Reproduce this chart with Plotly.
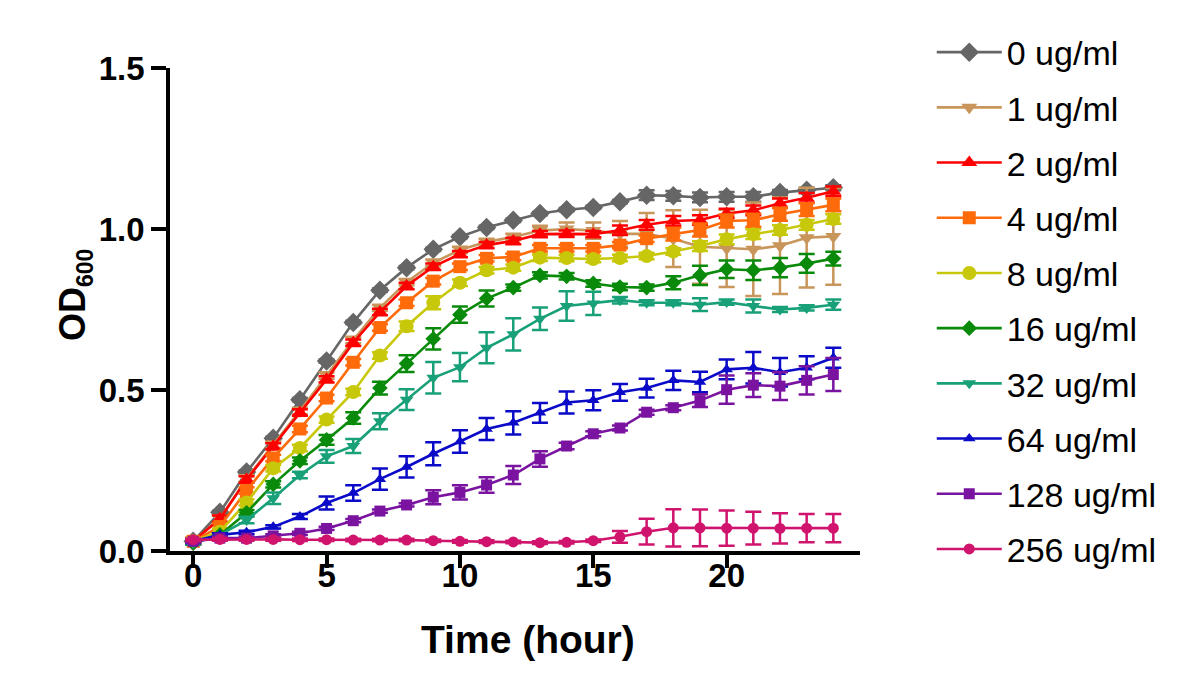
import plotly.graph_objects as go

hours = list(range(25))
labels = ["0 ug/ml", "1 ug/ml", "2 ug/ml", "4 ug/ml", "8 ug/ml",
          "16 ug/ml", "32 ug/ml", "64 ug/ml", "128 ug/ml", "256 ug/ml"]

od_0 = [0.03, 0.12, 0.245, 0.35, 0.47, 0.59, 0.71, 0.81, 0.88, 0.937, 0.976, 1.005, 1.027,
        1.048, 1.06, 1.067, 1.085, 1.105, 1.103, 1.098, 1.1, 1.1, 1.113, 1.12, 1.128]
err_0 = [0.005] * 17 + [0.015, 0.015, 0.015, 0.015, 0.015, 0.008, 0.008, 0.008]

od_1 = [0.03, 0.1, 0.225, 0.33, 0.435, 0.545, 0.655, 0.755, 0.835, 0.895, 0.935, 0.96, 0.975,
        0.995, 1.0, 0.995, 0.985, 0.985, 0.97, 0.945, 0.94, 0.937, 0.948, 0.973, 0.977]
err_1 = [0.01] * 13 + [0.015, 0.02, 0.025, 0.04, 0.065, 0.088, 0.115, 0.12, 0.145, 0.15, 0.155, 0.15]

od_2 = [0.03, 0.1, 0.222, 0.325, 0.43, 0.533, 0.647, 0.742, 0.823, 0.883, 0.922, 0.95, 0.963,
        0.984, 0.985, 0.984, 0.996, 1.013, 1.025, 1.028, 1.048, 1.058, 1.08, 1.097, 1.117]
err_2 = [0.01] * 16 + [0.015] * 9

od_4 = [0.03, 0.076, 0.188, 0.289, 0.379, 0.475, 0.586, 0.694, 0.771, 0.838, 0.883, 0.909, 0.913,
        0.94, 0.94, 0.94, 0.95, 0.97, 0.984, 0.997, 1.025, 1.027, 1.046, 1.06, 1.075]
err_4 = [0.01] * 18 + [0.02] * 7

od_8 = [0.03, 0.06, 0.151, 0.257, 0.32, 0.408, 0.494, 0.607, 0.698, 0.771, 0.833, 0.872, 0.88,
        0.911, 0.91, 0.907, 0.91, 0.916, 0.93, 0.947, 0.968, 0.984, 0.997, 1.013, 1.031]
err_8 = [0.01] * 8 + [0.015, 0.02] + [0.01] * 9 + [0.015] * 6

od_16 = [0.025, 0.05, 0.119, 0.207, 0.28, 0.345, 0.413, 0.506, 0.582, 0.659, 0.734, 0.784, 0.818,
         0.856, 0.853, 0.831, 0.82, 0.818, 0.833, 0.856, 0.875, 0.872, 0.88, 0.893, 0.908]
err_16 = [0.005, 0.005, 0.008, 0.01, 0.01, 0.015, 0.018, 0.02, 0.026, 0.033, 0.025, 0.025, 0.01,
          0.01, 0.01, 0.01, 0.01, 0.01, 0.02, 0.03, 0.027, 0.03, 0.03, 0.029, 0.021]

od_32 = [0.025, 0.05, 0.096, 0.164, 0.236, 0.294, 0.326, 0.403, 0.47, 0.538, 0.571, 0.631, 0.673,
         0.721, 0.761, 0.769, 0.779, 0.771, 0.771, 0.765, 0.773, 0.761, 0.75, 0.755, 0.765]
err_32 = [0.005, 0.005, 0.01, 0.018, 0.01, 0.02, 0.022, 0.025, 0.032, 0.049, 0.044, 0.048, 0.05,
          0.035, 0.046, 0.036, 0.01, 0.008, 0.008, 0.02, 0.008, 0.02, 0.008, 0.008, 0.016]

od_64 = [0.03, 0.05, 0.058, 0.075, 0.107, 0.149, 0.18, 0.223, 0.261, 0.302, 0.34, 0.379, 0.398,
         0.429, 0.461, 0.468, 0.493, 0.506, 0.53, 0.525, 0.564, 0.569, 0.555, 0.569, 0.6]
err_64 = [0.005, 0.005, 0.005, 0.005, 0.008, 0.02, 0.024, 0.033, 0.033, 0.036, 0.035, 0.034, 0.036,
          0.031, 0.034, 0.031, 0.026, 0.029, 0.03, 0.032, 0.031, 0.049, 0.044, 0.036, 0.031]

od_128 = [0.03, 0.04, 0.04, 0.047, 0.055, 0.07, 0.094, 0.124, 0.143, 0.167, 0.182, 0.205, 0.236,
          0.286, 0.326, 0.364, 0.382, 0.431, 0.445, 0.467, 0.501, 0.515, 0.512, 0.53, 0.548]
err_128 = [0.005] * 9 + [0.022, 0.022, 0.024, 0.028, 0.024, 0.01, 0.008, 0.008, 0.008, 0.008,
                          0.02, 0.044, 0.037, 0.043, 0.044, 0.051]

od_256 = [0.035, 0.036, 0.036, 0.036, 0.035, 0.035, 0.034, 0.034, 0.034, 0.032, 0.03, 0.029, 0.028,
          0.026, 0.027, 0.032, 0.044, 0.06, 0.072, 0.072, 0.071, 0.071, 0.07, 0.071, 0.071]
err_256 = [0.004] * 16 + [0.018, 0.04, 0.058, 0.057, 0.055, 0.051, 0.047, 0.044, 0.044]

series = [od_0, od_1, od_2, od_4, od_8, od_16, od_32, od_64, od_128, od_256]
errors = [err_0, err_1, err_2, err_4, err_8, err_16, err_32, err_64, err_128, err_256]
colors = ["#666666", "#c8955a", "#ff0000", "#ff6a0a", "#c8c80a",
          "#0a8a0a", "#18a078", "#0a0ac8", "#7a14a0", "#d0146e"]
symbols = ["diamond", "triangle-down", "triangle-up", "square", "circle",
           "diamond", "triangle-down", "triangle-up", "square", "circle"]
sizes = [15, 14, 14, 13, 14, 12, 12, 11, 11, 11]

FONT = "Liberation Sans, Arial, sans-serif"

fig = go.Figure()
for i, (lab, ys, es) in enumerate(zip(labels, series, errors)):
    fig.add_trace(go.Scatter(
        x=hours, y=ys, name=lab, mode="lines+markers",
        legendgroup=lab,
        line=dict(color=colors[i], width=2.6),
        marker=dict(symbol=symbols[i], size=sizes[i], color=colors[i]),
        error_y=dict(type="data", array=es, visible=True, color=colors[i],
                     thickness=2.5, width=8),
        cliponaxis=False,
    ))

bold = dict(family=FONT, size=33, color="black", weight="bold")

fig.update_layout(
    width=1200, height=700,
    paper_bgcolor="white", plot_bgcolor="white",
    margin=dict(l=162, r=348, t=60, b=157, autoexpand=False),
    font=dict(family=FONT, color="black"),
    showlegend=True,
    legend=dict(
        x=1.104, y=1.092, xanchor="left", yanchor="top",
        font=dict(family=FONT, size=34, color="black"),
        tracegroupgap=8, itemwidth=65, bgcolor="rgba(0,0,0,0)",
        maxheight=690,
    ),
    xaxis=dict(
        range=[-0.87, 25], showline=True, linecolor="black", linewidth=3.5,
        ticks="outside", ticklen=13, tickwidth=3.5, tickcolor="black",
        tickvals=[0, 5, 10, 15, 20], tickfont=bold, ticklabelstandoff=-20,
        showgrid=False, zeroline=False, automargin=False,
    ),
    yaxis=dict(
        range=[0, 1.5], showline=True, linecolor="black", linewidth=3.5,
        ticks="outside", ticklen=15, tickwidth=3.5, tickcolor="black",
        tickvals=[0, 0.5, 1.0, 1.5], ticktext=["0.0", "0.5", "1.0", "1.5"], tickfont=bold,
        showgrid=False, zeroline=False, automargin=False,
    ),
    annotations=[
        dict(text="<b>Time (hour)</b>", xref="paper", yref="paper",
             x=(528 - 170) / 690, y=0, yshift=-88, xanchor="center", yanchor="middle",
             showarrow=False, font=dict(family=FONT, size=39, color="black")),
        dict(text="<b>OD<sub><span style='font-size:23px'>600</span></sub></b>",
             xref="paper", yref="paper",
             x=0, xshift=-95, y=(551 - 295) / 483, xanchor="center", yanchor="middle",
             textangle=-90, showarrow=False, font=dict(family=FONT, size=36, color="black")),
    ],
)

fig.write_html("out.html")
